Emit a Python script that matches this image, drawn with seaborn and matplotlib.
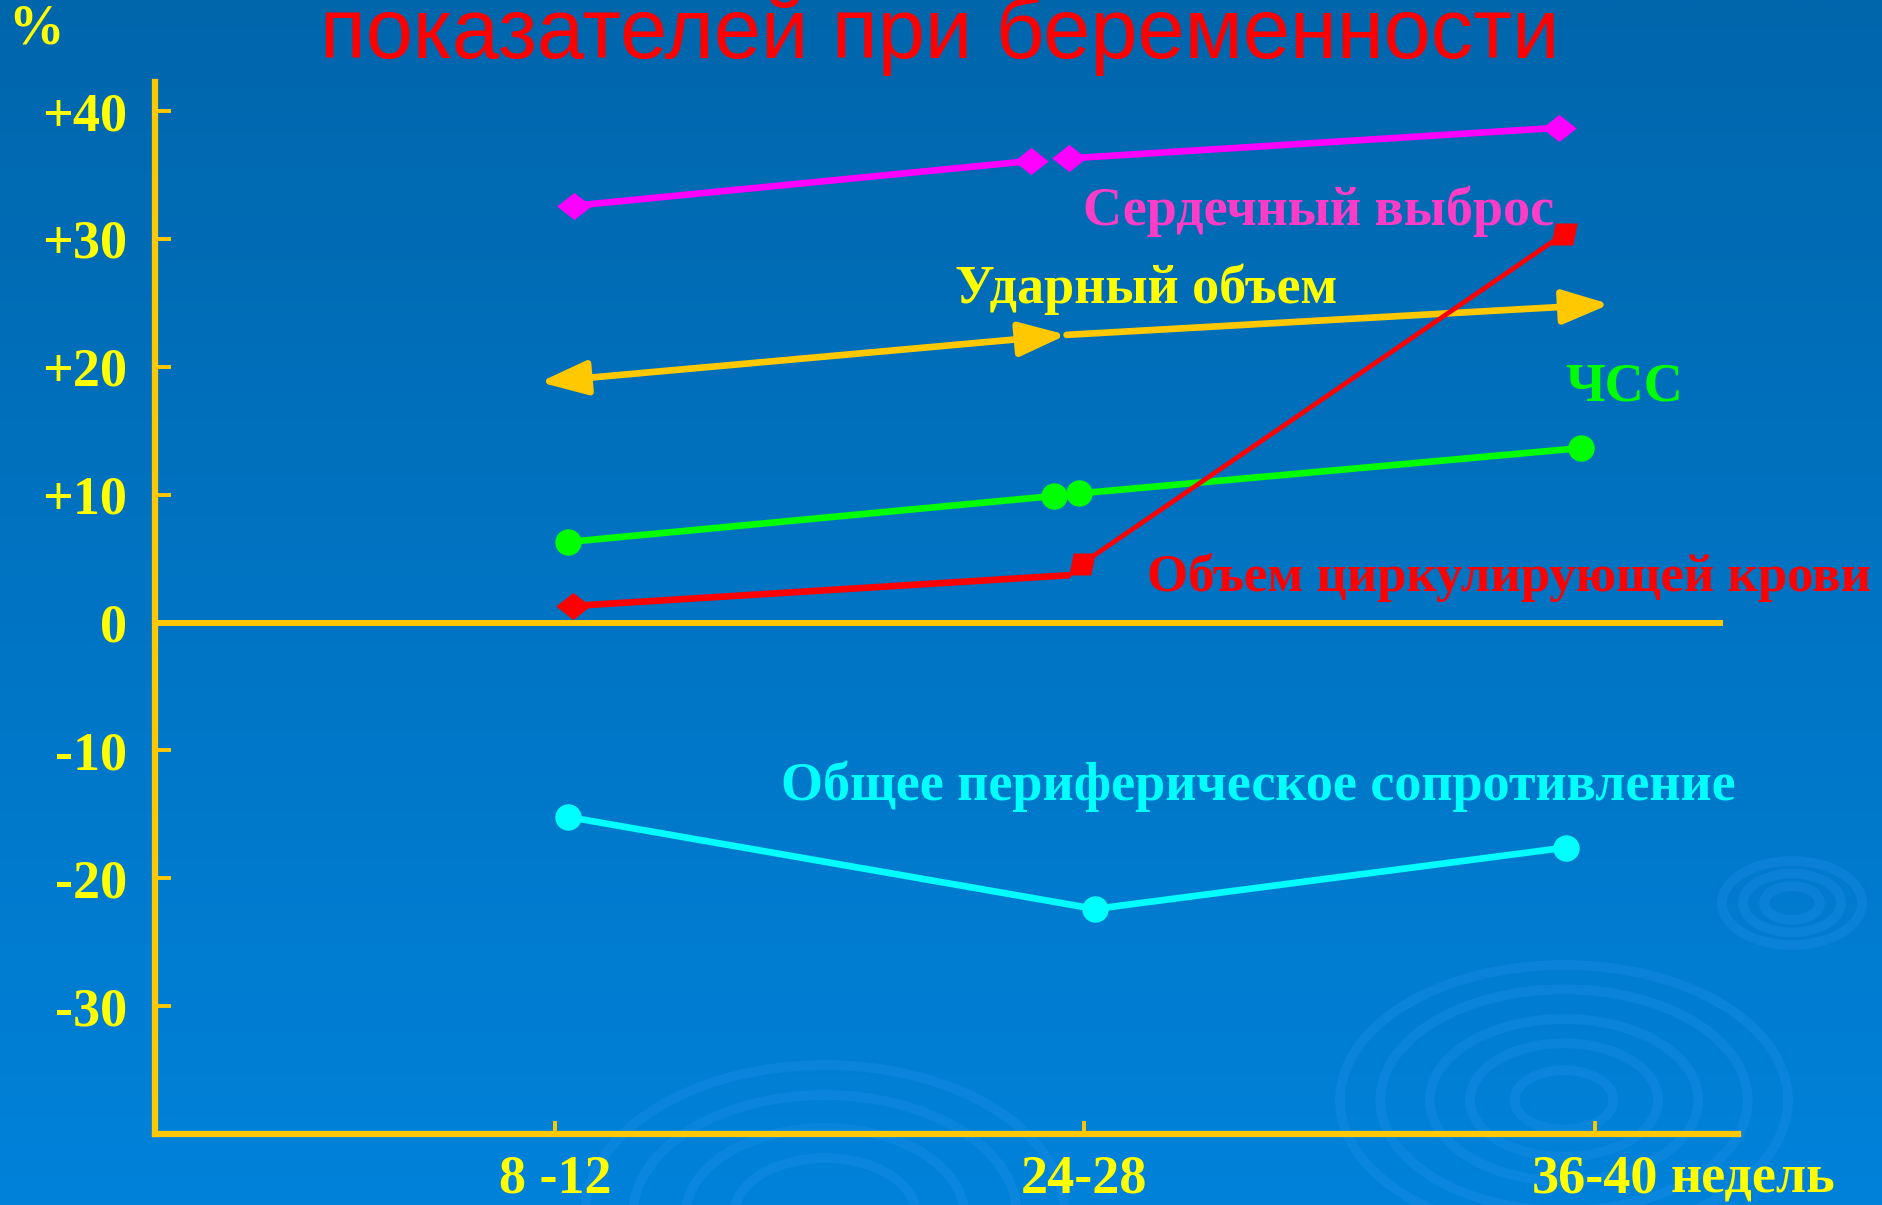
import numpy as np
import matplotlib
matplotlib.use("Agg")
import matplotlib.pyplot as plt
import seaborn as sns
from matplotlib.patches import Ellipse
from matplotlib.path import Path
from matplotlib.markers import MarkerStyle

# ---------------- data ----------------
tick_pos = [1.0, 2.0, 2.966]
tick_labels = ["8 -12", "24-28", "36-40"]
tick_suffix = "недель"
y_ticks = [-30, -20, -10, 0, 10, 20, 30, 40]
y_tick_labels = ["-30", "-20", "-10", "0", "+10", "+20", "+30", "+40"]

# Сердечный выброс (two segments)
co_x = [1.036, 1.899, 1.971, 2.898]
co_y = [32.6, 36.1, 36.3, 38.7]
# Ударный объем (arrows)
sv_x = [0.971, 1.967, 2.994]
sv_y = [18.8, 22.5, 24.9]
# ЧСС (two segments)
hr_x = [1.024, 1.943, 1.991, 2.940]
hr_y = [6.3, 9.9, 10.1, 13.65]
# Объем циркулирующей крови
bv_x = [1.034, 1.970, 1.996, 2.907]
bv_y = [1.3, 3.7, 4.6, 30.4]
# Общее периферическое сопротивление
tpr_x = [1.024, 2.021, 2.910]
tpr_y = [-15.2, -22.4, -17.6]

title = "показателей при беременности"
lbl_co = "Сердечный выброс"
lbl_sv = "Ударный объем"
lbl_hr = "ЧСС"
lbl_bv = "Объем циркулирующей крови"
lbl_tpr = "Общее периферическое сопротивление"

# ---------------- styling ----------------
sns.set_theme(style="white")
plt.rcParams["font.family"] = ["Liberation Serif", "DejaVu Serif"]

W, H = 1883, 1205
fig = plt.figure(figsize=(W / 100, H / 100), dpi=100)

# background gradient + ripples
bg = fig.add_axes([0, 0, 1, 1], zorder=0)
top = np.array([0, 102, 172]) / 255
bot = np.array([0, 130, 218]) / 255
t = np.linspace(0, 1, 256)[:, None]
grad = (top[None, :] * (1 - t) + bot[None, :] * t)[:, None, :]
bg.imshow(grad, extent=(0, W, H, 0), aspect="auto", interpolation="bilinear")
bg.set_xlim(0, W)
bg.set_ylim(H, 0)
bg.axis("off")
ring_col = "#1f90ea"
for cx, cy, rx, ry, fr in [(1564, 1100, 224, 135, [1.0, 0.82, 0.6, 0.42, 0.22]),
                           (1792, 903, 70, 42, [1.0, 0.7, 0.4]),
                           (825, 1215, 240, 150, [1.0, 0.8, 0.58, 0.38])]:
    for f in fr:
        bg.add_patch(Ellipse((cx, cy), 2 * rx * f, 2 * ry * f, fill=False,
                             edgecolor=ring_col, lw=7, alpha=0.35))

# main axes
L, B = 155 / W, (H - 1134) / H
ax = fig.add_axes([L, B, (1738 - 155) / W, (1134 - 81.7) / H], zorder=1)
ax.patch.set_alpha(0)
ax.set_xlim(0.244, 3.236)
ax.set_ylim(-40, 42.3)

axis_col = "#FFC800"
txt_yel = "#FFFF00"
for s in ["top", "right"]:
    ax.spines[s].set_visible(False)
for s in ["left", "bottom"]:
    ax.spines[s].set_color(axis_col)
    ax.spines[s].set_linewidth(4.5)
ax.hlines(0, 0.244, 3.208, color=axis_col, lw=4.3, zorder=2)

ax.set_yticks(y_ticks)
ax.set_yticklabels(y_tick_labels)
ax.set_xticks(tick_pos)
ax.set_xticklabels(tick_labels)
ax.tick_params(axis="y", direction="in", length=11.5, width=2.8, color=axis_col,
               labelcolor=txt_yel, labelsize=39, pad=20, left=True)
ax.tick_params(axis="x", direction="in", length=9.5, width=2.8, color=axis_col,
               labelcolor=txt_yel, labelsize=39, pad=15, bottom=True)
for lab in ax.get_xticklabels() + ax.get_yticklabels():
    lab.set_fontweight("bold")
ax.annotate(tick_suffix, xy=(tick_pos[2], 0), xycoords=("data", "axes fraction"),
            xytext=(54, -15), textcoords="offset points", ha="left", va="top",
            fontsize=39, fontweight="bold", color=txt_yel)
ax.grid(False)

# markers
diamond = MarkerStyle(Path([(-1, 0), (0, 0.78), (1, 0), (0, -0.78), (-1, 0)],
                           [Path.MOVETO, Path.LINETO, Path.LINETO, Path.LINETO, Path.CLOSEPOLY]))
slant_sq = MarkerStyle(Path([(-0.6, -0.5), (0.4, -0.5), (0.6, 0.5), (-0.4, 0.5), (-0.6, -0.5)],
                            [Path.MOVETO, Path.LINETO, Path.LINETO, Path.LINETO, Path.CLOSEPOLY]))

lw = 4.8
# Сердечный выброс
for i, j in [(0, 1), (2, 3)]:
    sns.lineplot(x=co_x[i:j + 1], y=co_y[i:j + 1], ax=ax, color="#FF00FF", lw=lw,
                 marker=diamond, markersize=25, markeredgewidth=0, sort=False,
                 estimator=None, zorder=3)
# Ударный объем arrows
arrow_kw = dict(color="#FFC800", lw=lw, shrinkA=0, shrinkB=0, mutation_scale=40)
ax.annotate("", xy=(sv_x[1], sv_y[1]), xytext=(sv_x[0], sv_y[0]),
            arrowprops=dict(arrowstyle="<|-|>,head_length=0.72,head_width=0.26", **arrow_kw))
ax.annotate("", xy=(sv_x[2], sv_y[2]), xytext=(sv_x[1], sv_y[1]),
            arrowprops=dict(arrowstyle="-|>,head_length=0.72,head_width=0.26", **arrow_kw))
# ЧСС
for i, j in [(0, 1), (2, 3)]:
    sns.lineplot(x=hr_x[i:j + 1], y=hr_y[i:j + 1], ax=ax, color="#00FF00", lw=lw,
                 marker="o", markersize=19, markeredgewidth=0, sort=False,
                 estimator=None, zorder=3)
# Объем циркулирующей крови
sns.lineplot(x=bv_x[0:2], y=bv_y[0:2], ax=ax, color="#FF0000", lw=lw,
             marker=diamond, markersize=25, markeredgewidth=0, markevery=[0],
             sort=False, estimator=None, zorder=3)
sns.lineplot(x=bv_x[2:4], y=bv_y[2:4], ax=ax, color="#FF0000", lw=3.4,
             marker=slant_sq, markersize=19, markeredgewidth=0, sort=False,
             estimator=None, zorder=3)
# Общее периферическое сопротивление
sns.lineplot(x=tpr_x, y=tpr_y, ax=ax, color="#00FFFF", lw=lw, marker="o",
             markersize=19, markeredgewidth=0, sort=False, estimator=None, zorder=3)

if ax.get_legend() is not None:
    ax.get_legend().remove()
ax.set_xlabel("")
ax.set_ylabel("")

# series labels
lab_kw = dict(fontweight="bold", ha="left", va="baseline", clip_on=False)
ax.text(1.998, 31.1, lbl_co, color="#FF3CC8", fontsize=39, **lab_kw)
ax.text(1.756, 25.0, lbl_sv, color=txt_yel, fontsize=39, **lab_kw)
ax.text(2.909, 17.4, lbl_hr, color="#00FF00", fontsize=39, **lab_kw)
ax.text(2.119, 2.44, lbl_bv, color="#FF0000", fontsize=38, **lab_kw)
ax.text(1.427, -13.9, lbl_tpr, color="#00FFFF", fontsize=39, **lab_kw)

# title and unit
fig.text(940 / W, 1 - 58 / H, title, ha="center", va="baseline", fontsize=61,
         color="#FF0000", family=["Liberation Sans", "DejaVu Sans"])
fig.text(36 / W, 1 - 30 / H, "%", ha="center", va="center", fontsize=40,
         fontweight="bold", color=txt_yel)

fig.savefig("out.png", dpi=100)
